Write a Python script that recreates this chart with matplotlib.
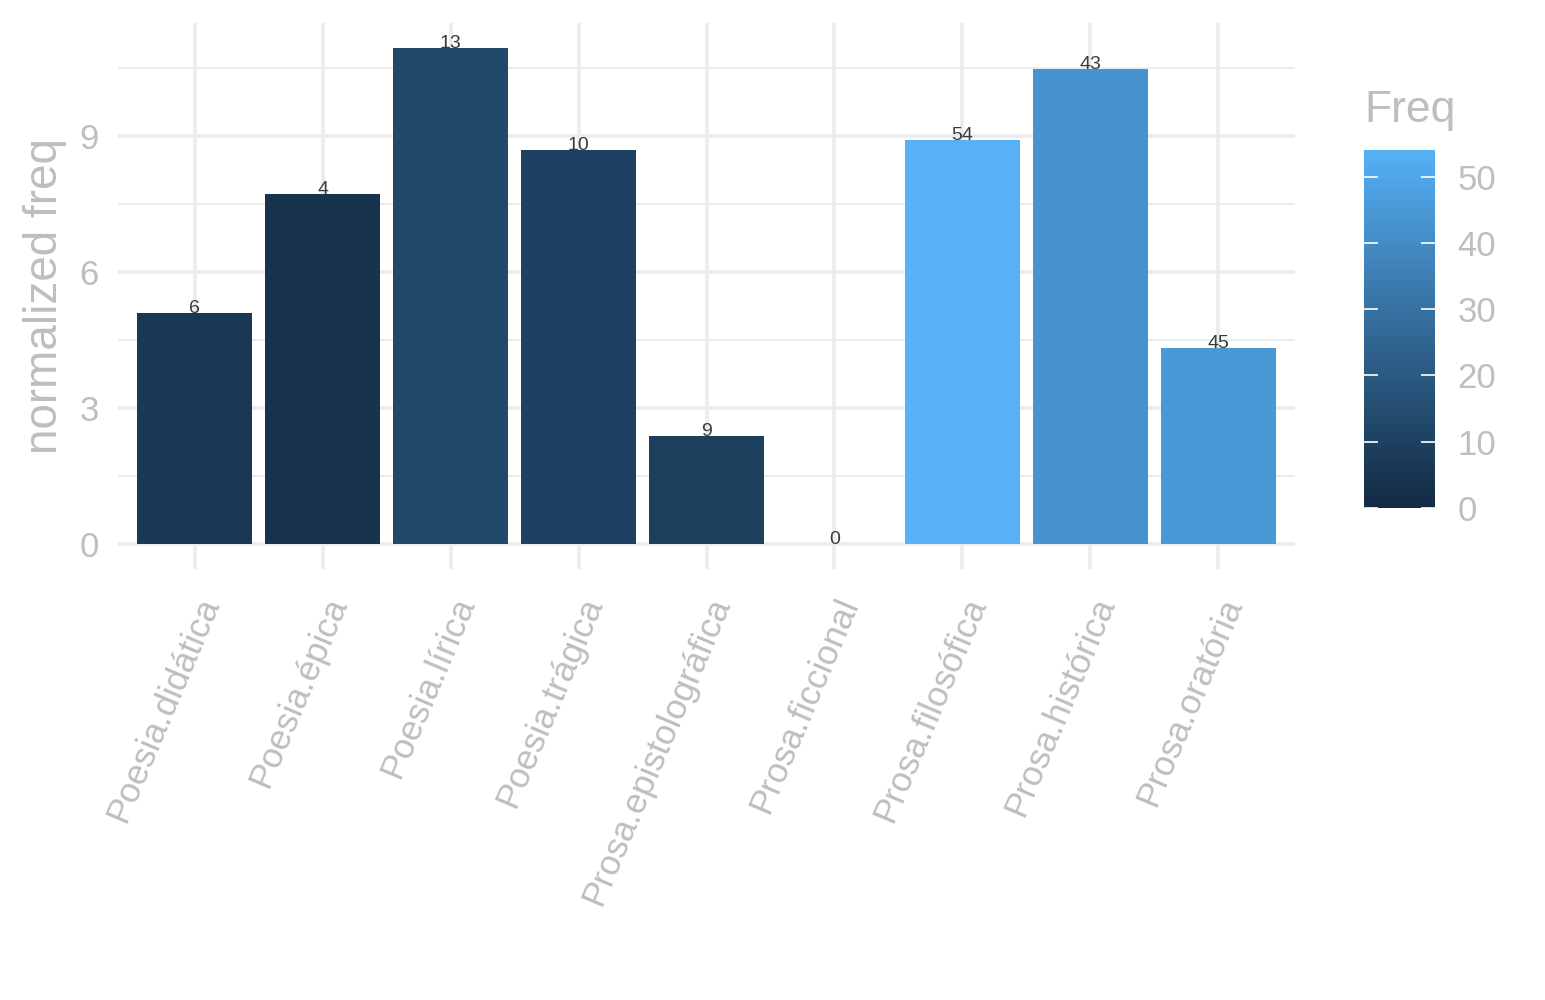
import numpy as np
import matplotlib
matplotlib.use("Agg")
import matplotlib.pyplot as plt
from matplotlib.colors import ListedColormap, Normalize
from matplotlib.cm import ScalarMappable

categories = ["Poesia.didática", "Poesia.épica", "Poesia.lírica", "Poesia.trágica",
              "Prosa.epistolográfica", "Prosa.ficcional", "Prosa.filosófica",
              "Prosa.histórica", "Prosa.oratória"]
norm_freq = [5.10, 7.72, 10.94, 8.69, 2.38, 0.0, 8.91, 10.48, 4.32]
freq = [6, 4, 13, 10, 9, 0, 54, 43, 45]
y_ticks = [0, 3, 6, 9]
legend_ticks = [0, 10, 20, 30, 40, 50]

plt.rcParams['font.family'] = ['Liberation Sans', 'DejaVu Sans']

# ggplot2 default gradient (Lab interpolation)
def hex2rgb(h):
    h = h.lstrip('#')
    return np.array([int(h[i:i+2], 16) / 255 for i in (0, 2, 4)])

M = np.array([[0.4124564, 0.3575761, 0.1804375],
              [0.2126729, 0.7151522, 0.0721750],
              [0.0193339, 0.1191920, 0.9503041]])
WP = np.array([0.95047, 1.0, 1.08883])

def rgb2lab(c):
    lin = np.where(c <= 0.04045, c / 12.92, ((c + 0.055) / 1.055) ** 2.4)
    xyz = M @ lin / WP
    f = np.where(xyz > (6/29) ** 3, np.cbrt(xyz), xyz / (3 * (6/29) ** 2) + 4/29)
    return np.array([116 * f[1] - 16, 500 * (f[0] - f[1]), 200 * (f[1] - f[2])])

def lab2rgb(lab):
    L, a, b = lab
    fy = (L + 16) / 116
    fx = fy + a / 500
    fz = fy - b / 200
    f = np.array([fx, fy, fz])
    xyz = np.where(f > 6/29, f ** 3, 3 * (6/29) ** 2 * (f - 4/29)) * WP
    lin = np.linalg.inv(M) @ xyz
    lin = np.clip(lin, 0, 1)
    c = np.where(lin <= 0.0031308, 12.92 * lin, 1.055 * lin ** (1/2.4) - 0.055)
    return np.clip(c, 0, 1)

lo, hi = rgb2lab(hex2rgb("#132B43")), rgb2lab(hex2rgb("#56B1F7"))
cmap = ListedColormap([lab2rgb(lo + (hi - lo) * t) for t in np.linspace(0, 1, 256)])
norm = Normalize(vmin=min(freq), vmax=max(freq))

fig = plt.figure(figsize=(15.45, 10), dpi=100)
ax = fig.add_axes([118/1545, 1 - 569/1000, (1295 - 118)/1545, (569 - 23)/1000])

x = np.arange(len(categories))
ax.bar(x, norm_freq, width=0.9, color=[cmap(norm(f)) for f in freq], zorder=2)
for xi, v, f in zip(x, norm_freq, freq):
    ax.text(xi, v, str(f), ha='center', va='baseline', fontsize=14, color='#3a3a3a', zorder=3)

ymax = max(norm_freq)
ax.set_xlim(-0.6, len(categories) - 0.4)
ax.set_ylim(-0.05 * ymax, 1.05 * ymax)
ax.set_yticks(y_ticks)
ax.set_yticks([1.5, 4.5, 7.5, 10.5], minor=True)
ax.set_xticks(x)
ax.set_xticklabels(categories, rotation=67, ha='right', va='top', rotation_mode='anchor')

for s in ax.spines.values():
    s.set_visible(False)
ax.grid(True, which='major', axis='both', color='#EBEBEB', linewidth=2.6, zorder=0)
ax.grid(True, which='minor', axis='y', color='#EBEBEB', linewidth=1.3, zorder=0)
ax.set_axisbelow(True)
ax.tick_params(axis='both', which='both', length=0, labelsize=25, labelcolor='#BEBEBE')
ax.tick_params(axis='x', labelsize=25.5, pad=17)
ax.tick_params(axis='y', pad=14)
ax.set_ylabel("normalized freq", fontsize=33, color='#BEBEBE', labelpad=9)

# colour bar legend
cax = fig.add_axes([1364/1545, 1 - 508/1000, 71/1545, 358/1000])
cb = fig.colorbar(ScalarMappable(norm=norm, cmap=cmap), cax=cax)
cb.outline.set_visible(False)
cb.set_ticks(legend_ticks)
cax.tick_params(axis='y', direction='in', length=10, width=1.2, color='white',
                left=True, right=True, labelleft=False, labelright=True,
                labelsize=25, labelcolor='#BEBEBE', pad=16)
fig.text(1364/1545, 1 - 122/1000, "Freq", fontsize=32, color='#BEBEBE', ha='left', va='baseline')

fig.savefig("out.png", dpi=100, facecolor='white')
